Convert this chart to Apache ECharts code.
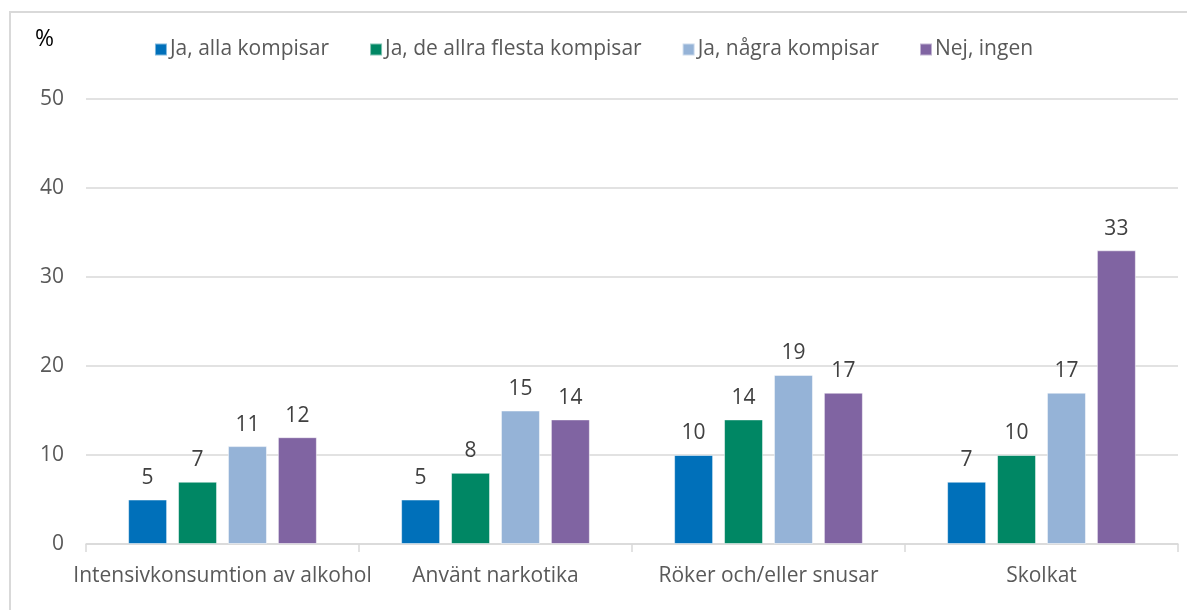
<!DOCTYPE html>
<html>
<head>
<meta charset="utf-8">
<script src="https://cdn.jsdelivr.net/npm/echarts@6/dist/echarts.min.js"></script>
<style>
  html, body { margin: 0; padding: 0; background: #fff; }
  #chart { width: 1187px; height: 610px; }
</style>
</head>
<body>
<div id="chart"></div>
<script>
// Andel (%) per beteende, uppdelat på hur många kompisar som gör samma sak
const categories = ['Intensivkonsumtion av alkohol', 'Använt narkotika', 'Röker och/eller snusar', 'Skolkat'];
const seriesNames = ['Ja, alla kompisar', 'Ja, de allra flesta kompisar', 'Ja, några kompisar', 'Nej, ingen'];
const allaKompisar = [5, 5, 10, 7];
const flestaKompisar = [7, 8, 14, 10];
const nagraKompisar = [11, 15, 19, 17];
const ingen = [12, 14, 17, 33];
const yTicks = [0, 10, 20, 30, 40, 50];

const colors = ['#0070BA', '#008764', '#95B3D7', '#8064A2'];
const values = [allaKompisar, flestaKompisar, nagraKompisar, ingen];
const fontFamily = '"Open Sans", Lato, sans-serif';

const chart = echarts.init(document.getElementById('chart'), null, { renderer: 'canvas' });

chart.setOption({
  animation: false,
  textStyle: { fontFamily: fontFamily },
  graphic: [
    {
      type: 'rect',
      shape: { x: 10, y: 12, width: 1200, height: 620 },
      style: { fill: 'none', stroke: '#d9d9d9', lineWidth: 2 },
      silent: true
    },
    {
      type: 'text',
      left: 35,
      top: 28,
      style: { text: '%', fill: '#000', font: '23px ' + fontFamily }
    }
  ],
  legend: {
    data: seriesNames,
    top: 34,
    left: 'center',
    itemWidth: 12,
    itemHeight: 12,
    itemGap: 40,
    icon: 'rect',
    textStyle: { color: '#595959', fontSize: 21, padding: [0, 0, 0, -2] }
  },
  grid: { left: 86, right: 9, top: 99, bottom: 66, containLabel: false },
  xAxis: {
    type: 'category',
    data: categories,
    axisLine: { lineStyle: { color: '#d9d9d9', width: 1.5 } },
    axisTick: { show: true, length: 8, lineStyle: { color: '#d9d9d9', width: 1.5 } },
    axisLabel: { color: '#595959', fontSize: 21, margin: 22, interval: 0 }
  },
  yAxis: {
    type: 'value',
    min: yTicks[0],
    max: yTicks[yTicks.length - 1],
    interval: 10,
    axisLine: { show: false },
    axisTick: { show: false },
    axisLabel: { color: '#595959', fontSize: 21, margin: 22 },
    splitLine: { lineStyle: { color: '#d9d9d9', width: 1.5 } }
  },
  series: seriesNames.map((name, i) => ({
    name: name,
    type: 'bar',
    data: values[i],
    barWidth: 39,
    barGap: '28%',
    itemStyle: { color: colors[i], borderColor: 'rgba(255,255,255,0.5)', borderWidth: 1 },
    label: {
      show: true,
      position: 'top',
      distance: 11,
      color: '#404040',
      fontSize: 21
    }
  }))
});
</script>
</body>
</html>
